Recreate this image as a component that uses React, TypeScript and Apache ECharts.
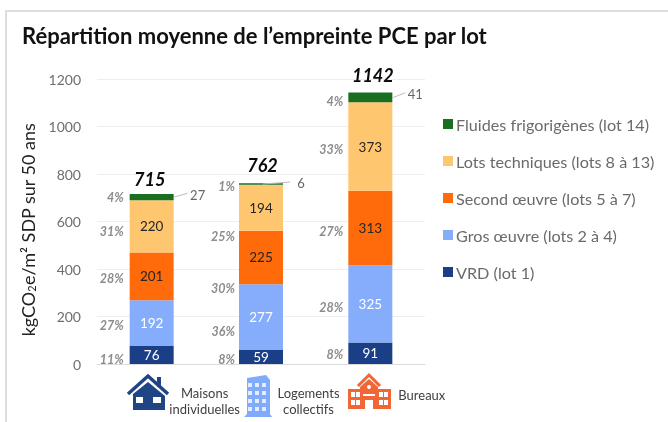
import React, { useEffect, useRef } from "react";
import * as echarts from "echarts";

const categories = ["Maisons\nindividuelles", "Logements\ncollectifs", "Bureaux"];
const vrd = [76, 59, 91];
const gros = [192, 277, 325];
const second = [201, 225, 313];
const techniques = [220, 194, 373];
const fluides = [27, 6, 41];
const totals = [715, 762, 1142];
const seriesNames = ["VRD (lot 1)", "Gros œuvre (lots 2 à 4)", "Second œuvre (lots 5 à 7)", "Lots techniques (lots 8 à 13)", "Fluides frigorigènes (lot 14)"];
const seriesColors = ["#1b3f87", "#85adfb", "#ff6a0a", "#ffc670", "#1a6e20"];
const labelColors = ["#ffffff", "#ffffff", "#262626", "#262626", "#ffffff"];
const percentLabels = [
  [0, 17, "11%"], [0, 164, "27%"], [0, 362, "28%"], [0, 560, "31%"], [0, 700, "4%"],
  [1, 17, "8%"], [1, 135, "36%"], [1, 316, "30%"], [1, 535, "25%"], [1, 746, "1%"],
  [2, 38, "8%"], [2, 240, "28%"], [2, 556, "27%"], [2, 903, "33%"], [2, 1105, "4%"],
];
const FONT = "Lato";

function icons() {
  const navy = "#1f4585", blue = "#7fabfa", orange = "#f26535", white = "#ffffff", pale = "#e3edff";
  const rect = (x: number, y: number, w: number, h: number, fill: string) => ({ type: "rect", shape: { x, y, width: w, height: h }, style: { fill } });
  const poly = (points: number[][], fill: string) => ({ type: "polygon", shape: { points }, style: { fill } });
  const chev = (points: number[][], stroke: string, lineWidth: number) => ({ type: "polyline", shape: { points }, style: { stroke, lineWidth, fill: "none" } });
  const els: any[] = [
    rect(157, 377, 4, 10, navy),
    chev([[128, 394], [148, 376], [168, 394]], navy, 3.5),
    poly([[133, 394], [148, 382], [165, 396], [165, 410], [133, 410]], navy),
    rect(136, 397, 7, 6, white),
    rect(153, 397, 8, 6, white),
    poly([[247, 378], [266, 375], [270, 380], [270, 414], [272, 417], [244, 417], [247, 414]], blue),
  ];
  [250, 257, 264].forEach((x) => [385, 393, 401, 409].forEach((y) => els.push(rect(x - 2, y - 2, 4, 4, pale))));
  els.push(
    rect(348, 389, 43, 20, orange),
    poly([[369, 379], [378, 387], [378, 409], [360, 409], [360, 387]], orange),
    chev([[358, 386], [369, 375], [380, 386]], orange, 3),
    rect(351, 392, 4, 5, white), rect(356, 392, 4, 5, white),
    rect(351, 400, 4, 5, white), rect(356, 400, 4, 5, white),
    rect(379, 392, 4, 5, white), rect(384, 392, 4, 5, white),
    rect(379, 400, 4, 5, white), rect(384, 400, 4, 5, white),
    { type: "circle", shape: { cx: 369, cy: 387, r: 2 }, style: { fill: white } },
    rect(363, 394, 12, 2, white),
    rect(365, 400, 8, 9, white),
  );
  return els;
}

export default function App() {
  const ref = useRef<HTMLDivElement>(null);
  useEffect(() => {
    const chart = echarts.init(ref.current!, null, { renderer: "svg" });
    const stacks = [vrd, gros, second, techniques, fluides];
    const tiny = (v: number) => v < 50;
    const option: any = {
      animation: false,
      backgroundColor: "#ffffff",
      textStyle: { fontFamily: FONT },
      title: {
        text: "Répartition moyenne de l’empreinte PCE par lot",
        left: 17, top: 19,
        textStyle: { fontFamily: FONT, fontSize: 22, fontWeight: "bold", color: "#111111" },
      },
      legend: {
        orient: "vertical", left: 438, top: 111, itemWidth: 10, itemHeight: 10, itemGap: 21,
        icon: "rect",
        data: [...seriesNames].reverse(),
        textStyle: { fontFamily: FONT, fontSize: 16.2, color: "#6a6a6a", padding: [0, 0, 0, -2] },
      },
      grid: { left: 97, right: 243, top: 79, bottom: 58 },
      xAxis: {
        type: "category",
        data: [
          { value: categories[0], textStyle: { padding: [0, 0, 2, 106] } },
          { value: categories[1], textStyle: { padding: [0, 0, 5, 95] } },
          { value: categories[2], textStyle: { padding: [2, 0, 0, 103] } },
        ],
        axisTick: { show: false },
        axisLine: { lineStyle: { color: "#dcdcdc" } },
        axisLabel: { interval: 0, margin: 21, fontFamily: FONT, fontSize: 13, lineHeight: 16, color: "#404040" },
      },
      yAxis: {
        type: "value", min: 0, max: 1200, interval: 200,
        axisLine: { show: false }, axisTick: { show: false },
        splitLine: { lineStyle: { color: "#eeeeee" } },
        axisLabel: { margin: 16, fontFamily: FONT, fontSize: 14, color: "#6f6f6f", formatter: (v: number) => String(v) },
        name: "kgCO{sub|2}e/m² SDP sur 50 ans",
        nameLocation: "middle", nameGap: 60,
        nameTextStyle: {
          fontFamily: FONT, fontSize: 18, color: "#222222", padding: [0, 16, 0, 0],
          rich: { sub: { fontFamily: FONT, fontSize: 11, color: "#222222", verticalAlign: "bottom", padding: [8, 0, 0, 0] } },
        },
      },
      series: [
        ...seriesNames.map((name, i) => ({
          name, type: "bar", stack: "t", barWidth: 44,
          data: stacks[i],
          itemStyle: { color: seriesColors[i] },
          label: {
            show: true, position: "inside", fontFamily: FONT, fontSize: 13.5, color: labelColors[i],
            formatter: (p: any) => (tiny(p.value) ? "" : String(p.value)),
          },
        })),
        {
          type: "custom", silent: true, legendHoverLink: false, encode: { x: 0, y: 1 }, z: 5,
          data: percentLabels,
          renderItem: (_: any, api: any) => {
            const c = api.coord([api.value(0), api.value(1)]);
            const i = api.value(0);
            return {
              type: "text", x: c[0] - [28, 26, 27][i], y: c[1],
              style: {
                text: percentLabels[_.dataIndex][2], align: "right", verticalAlign: "middle",
                fontFamily: FONT, fontSize: 12.5, fontStyle: "italic", fontWeight: "bold", fill: "#8c8c8c",
              },
            };
          },
        },
        {
          type: "custom", silent: true, encode: { x: 0, y: 1 }, z: 6,
          data: totals.map((t, i) => [i, t]),
          renderItem: (p: any, api: any) => {
            const i = p.dataIndex;
            const c = api.coord([api.value(0), api.value(1)]);
            return {
              type: "text", x: c[0] + [-2, 1.5, 2.5][i], y: c[1] - [15, 18, 18][i],
              style: {
                text: String(totals[i]), align: "center", verticalAlign: "middle",
                fontFamily: FONT, fontSize: 18, fontStyle: "italic", fontWeight: "bold", fill: "#0a0a0a",
              },
            };
          },
        },
        {
          type: "custom", silent: true, encode: { x: 0, y: 1 }, z: 6,
          data: fluides.map((v, i) => [i, totals[i], v]),
          renderItem: (p: any, api: any) => {
            const i = p.dataIndex;
            const c = api.coord([api.value(0), api.value(1)]);
            const from = [[22, 3], [2, 1], [22, 5]][i];
            const to = [[36, -1], [29, -1], [35, 0]][i];
            const tx = [46, 40, 45][i];
            const ty = [1, 0, 1][i];
            return {
              type: "group",
              children: [
                { type: "line", shape: { x1: c[0] + from[0], y1: c[1] + from[1], x2: c[0] + to[0], y2: c[1] + to[1] }, style: { stroke: "#bdbdbd", lineWidth: 1 } },
                { type: "text", x: c[0] + tx, y: c[1] + ty, style: { text: String(fluides[i]), align: "center", verticalAlign: "middle", fontFamily: FONT, fontSize: 13, fill: "#666666" } },
              ],
            };
          },
        },
      ],
      graphic: [
        { type: "rect", silent: true, shape: { x: 6, y: 11, width: 680, height: 430 }, style: { fill: "none", stroke: "#dddddd", lineWidth: 2 } },
        { type: "group", silent: true, children: icons() },
      ],
    };
    chart.setOption(option);
    return () => chart.dispose();
  }, []);
  return <div ref={ref} style={{ position: "absolute", left: 0, top: 0, width: 668, height: 422, filter: "blur(0.35px)" }} />;
}
